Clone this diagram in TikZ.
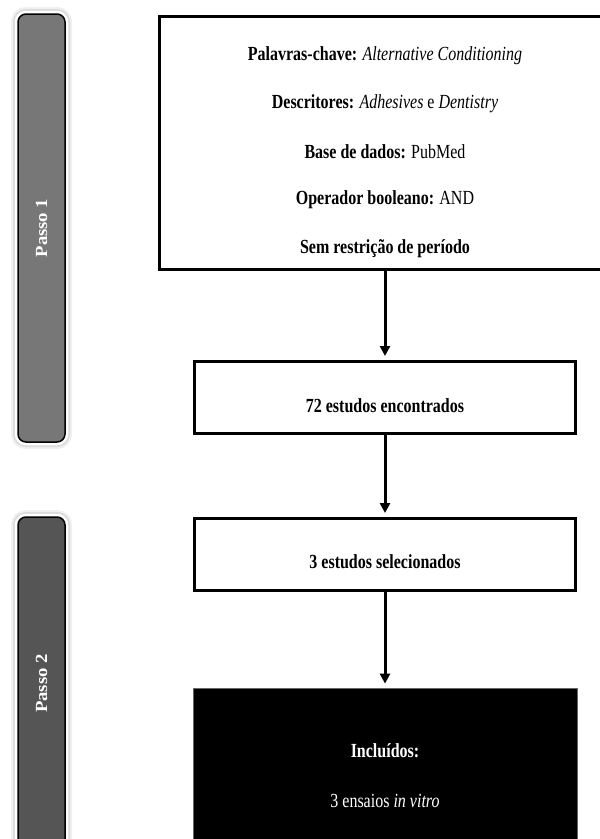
\documentclass[tikz,border=0pt]{standalone}
\usepackage{fontspec}
\setmainfont{Liberation Serif}
\newfontfamily\boxfont[FakeStretch=0.80]{Liberation Serif}
\newfontfamily\passofont[FakeStretch=1.1]{Liberation Serif}
\usetikzlibrary{arrows.meta}
\definecolor{barone}{HTML}{777777}
\definecolor{bartwo}{HTML}{555555}
\tikzset{
  flowbox/.style={draw=black, line width=3pt, fill=white, rectangle, inner sep=0pt},
  blackbox/.style={fill=black, draw=black!60, line width=0.8pt, rectangle, inner sep=0pt},
  boxtext/.style={font=\boxfont\fontsize{20}{22}\selectfont, inner sep=0pt, anchor=center},
  passobar/.style={rectangle, rounded corners=8pt, draw=black, line width=1.5pt,
    preaction={draw=black!6, line width=14pt},
    preaction={draw=black!14, line width=10pt},
    preaction={draw=white, line width=6.5pt},
    text=white, font=\passofont\bfseries\fontsize{17}{19}\selectfont,
    rotate=90, inner sep=0pt, minimum height=47pt},
  flowarrow/.style={line width=3pt, -{Triangle[width=10pt,length=10pt]}, shorten >=4pt}
}
\begin{document}
\begin{tikzpicture}[x=1pt,y=-1pt]
\useasboundingbox (0,0) rectangle (600,839);
% side bars
\node[passobar, fill=barone, minimum width=428pt] (p1) at (41.5,228) {Passo 1};
\node[passobar, fill=bartwo, minimum width=333pt] (p2) at (41.5,683.5) {Passo 2};
% top box
\node[flowbox, minimum width=451pt, minimum height=253pt] (top) at (385,143) {};
\node[boxtext] (t1) at (385,56) {\textbf{Palavras-chave:} \textit{Alternative Conditioning}};
\node[boxtext] (t2) at (385,104) {\textbf{Descritores:} \textit{Adhesives} e \textit{Dentistry}};
\node[boxtext] (t3) at (385,152) {\textbf{Base de dados:} PubMed};
\node[boxtext] (t4) at (385,200) {\textbf{Operador booleano:} AND};
\node[boxtext] (t5) at (385,249) {\textbf{Sem restrição de período}};
% second box
\node[flowbox, minimum width=381pt, minimum height=72pt] (b2) at (385,397.5) {};
\node[boxtext] (b2t) at (385,406) {\textbf{72 estudos encontrados}};
% third box
\node[flowbox, minimum width=381pt, minimum height=72pt] (b3) at (385,554.5) {};
\node[boxtext] (b3t) at (385,562) {\textbf{3 estudos selecionados}};
% black box
\node[blackbox, minimum width=384pt, minimum height=170pt] (b4) at (385,773) {};
\node[boxtext, text=white] (b4a) at (385,751) {\textbf{Incluídos:}};
\node[boxtext, text=white] (b4b) at (385,801) {3 ensaios \textit{in vitro}};
% arrows
\draw[flowarrow] (top.south) -- (b2.north);
\draw[flowarrow] (b2.south) -- (b3.north);
\draw[flowarrow] (b3.south) -- (b4.north);
\end{tikzpicture}
\end{document}
